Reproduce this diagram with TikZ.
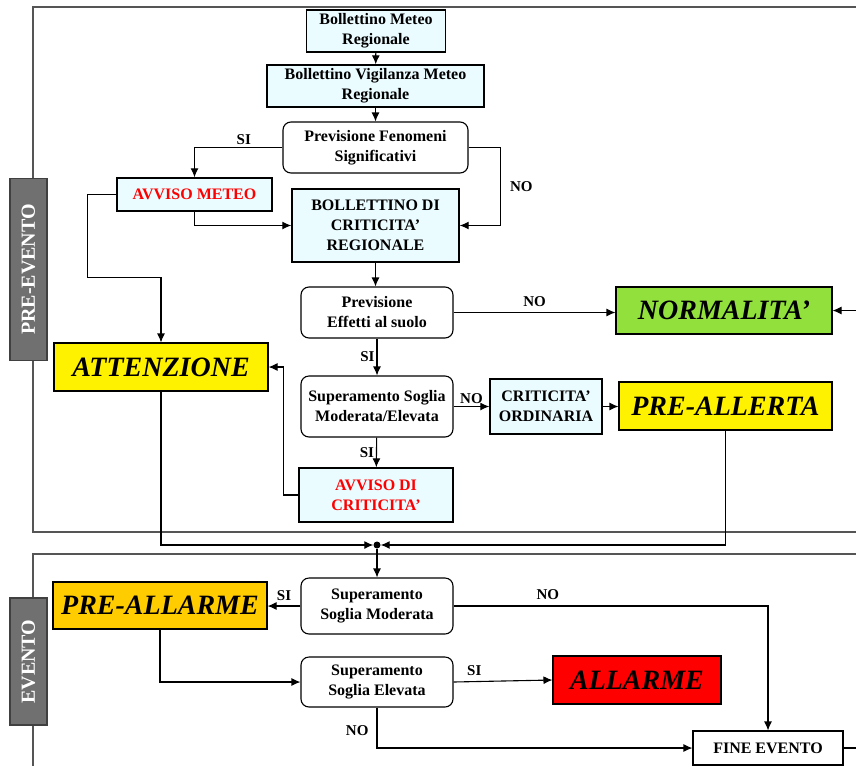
\documentclass[tikz,border=0pt]{standalone}
\usepackage{fontspec}
\setmainfont{Liberation Serif}
\usepackage{xcolor}
\usetikzlibrary{positioning,calc,arrows.meta}

\definecolor{paleblue}{RGB}{234,252,255}
\definecolor{phasegray}{RGB}{112,112,112}
\definecolor{okgreen}{RGB}{146,224,60}
\definecolor{alarmorange}{RGB}{255,204,0}
\definecolor{framegray}{RGB}{85,85,85}
\newcommand{\boxfont}{\fontsize{16}{20}\selectfont\bfseries}
\newcommand{\statefont}{\fontsize{28}{32}\selectfont\bfseries\itshape}

\begin{document}
\begin{tikzpicture}[x=1pt, y=-1pt, >={Latex[length=9pt,width=8pt]},
  info/.style = {draw, line width=1.4pt, fill=paleblue, font=\boxfont, align=center, inner sep=0pt},
  check/.style = {draw, line width=1.1pt, rounded corners=8pt, fill=white, font=\boxfont, align=center, inner sep=0pt},
  state/.style = {draw, line width=1.1pt, font=\statefont, inner sep=0pt},
  phase/.style = {draw=black!75, line width=1.2pt, fill=phasegray, text=white, font=\fontsize{20}{24}\selectfont\bfseries, rotate=90, inner sep=0pt},
  frame/.style = {draw=framegray, line width=1.2pt},
  flow/.style = {->, line width=1.1pt},
  lbl/.style = {font=\fontsize{15}{18}\selectfont\bfseries, inner sep=2pt}]

\useasboundingbox (0,0) rectangle (856,766);

% phase frames
\draw[frame] (856,7) -| (33,532) -- (856,532);
\draw[frame] (856,554) -| (33,766);
\node[phase, minimum width=182, minimum height=37] (pre) at (28.5,269.5) {PRE-EVENTO};
\node[phase, minimum width=127, minimum height=37] (evt) at (28.5,661.5) {EVENTO};

% pre-evento
\node[info, minimum width=139, minimum height=42] (bmr) at (376,31) {Bollettino Meteo\\Regionale};
\node[info, minimum width=217, minimum height=42] (bvm) at (375.5,86) {Bollettino Vigilanza Meteo\\Regionale};
\node[check, minimum width=185, minimum height=51] (pfs) at (375.5,147.5) {Previsione Fenomeni\\Significativi};
\node[info, minimum width=155, minimum height=33, text=red] (avm) at (194.5,194.5) {AVVISO METEO};
\node[info, minimum width=167, minimum height=73] (bcr) at (375.5,225.5) {BOLLETTINO DI\\CRITICITA’\\REGIONALE};
\node[check, minimum width=152, minimum height=51] (pes) at (377,312.5) {Previsione\\Effetti al suolo};
\node[state, fill=okgreen, minimum width=216, minimum height=47] (nor) at (724,310.5) {NORMALITA’};
\node[state, fill=yellow, minimum width=214, minimum height=48] (att) at (161,367) {ATTENZIONE};
\node[check, minimum width=152, minimum height=61] (ssme) at (377,406.5) {Superamento Soglia\\Moderata/Elevata};
\node[info, minimum width=112, minimum height=55] (cro) at (546,406.5) {CRITICITA’\\ORDINARIA};
\node[state, fill=yellow, minimum width=213, minimum height=48] (pal) at (725.5,406) {PRE-ALLERTA};
\node[info, minimum width=154, minimum height=54, text=red] (adc) at (376,495) {AVVISO DI\\CRITICITA’};

% evento
\node[circle, fill, inner sep=0pt, minimum size=7pt] (jn) at (377,545) {};
\node[check, minimum width=152, minimum height=56] (ssm) at (377,606) {Superamento\\Soglia Moderata};
\node[state, fill=alarmorange, minimum width=214, minimum height=47] (pam) at (160,605.5) {PRE-ALLARME};
\node[check, minimum width=152, minimum height=50] (sse) at (377,682) {Superamento\\Soglia Elevata};
\node[state, fill=red, minimum width=168, minimum height=48] (all) at (637,680) {ALLARME};
\node[draw, line width=1.1pt, fill=white, font=\boxfont, inner sep=0pt, minimum width=150, minimum height=34] (fin) at (768,748) {FINE EVENTO};
\coordinate (nin) at (856,310.5);
\coordinate (fout) at (856,748);

\draw[flow] (bmr) -- (bvm);
\draw[flow] (bvm) -- (pfs);
\draw[flow] (pfs.west) -| node[lbl, pos=0.22, above] {SI} (avm.north);
\draw[flow] (pfs.east) -- ++(32,0) |- node[lbl, pos=0.25, right=7pt] {NO} (bcr.east);
\draw[flow] (avm.south) |- (bcr.west);
\draw[flow] (avm.west) -| ++(-29,83) -| (att.north);
\draw[flow] (bcr.south) -- (bcr.south |- pes.north);
\draw[flow] (pes.east) -- node[lbl, above=3pt] {NO} (pes.east -| nor.west);
\draw[flow] (nin) -- (nor.east);
\draw[flow] (pes) -- node[lbl, left] {SI} (ssme);
\draw[flow] (ssme.east) -- node[lbl, above] {NO} (ssme.east -| cro.west);
\draw[flow] (cro.east) -- (cro.east -| pal.west);
\draw[flow] (ssme) -- node[lbl, left] {SI} (adc);
\draw[flow] (adc.west) -- ++(-15,0) |- (att.east);
\draw[flow] (att.south) |- (jn);
\draw[flow] (pal.south) |- (jn);
\draw[flow] (jn) -- (ssm);
\draw[flow] (ssm.west) -- node[lbl, above=3pt] {SI} (ssm.west -| pam.east);
\draw[flow] (ssm.east) -| node[lbl, pos=0.15, above=4pt] {NO} (fin.north);
\draw[flow] (pam.south) |- (sse.west);
\draw[flow] (sse.east) -- node[lbl, pos=0.21, above=3pt] {SI} (all.west);
\draw[flow] (sse.south) |- node[lbl, pos=0.29, left=6pt] {NO} (fin.west);
\draw[line width=1.1pt] (fin.east) -- (fout);
\end{tikzpicture}
\end{document}
